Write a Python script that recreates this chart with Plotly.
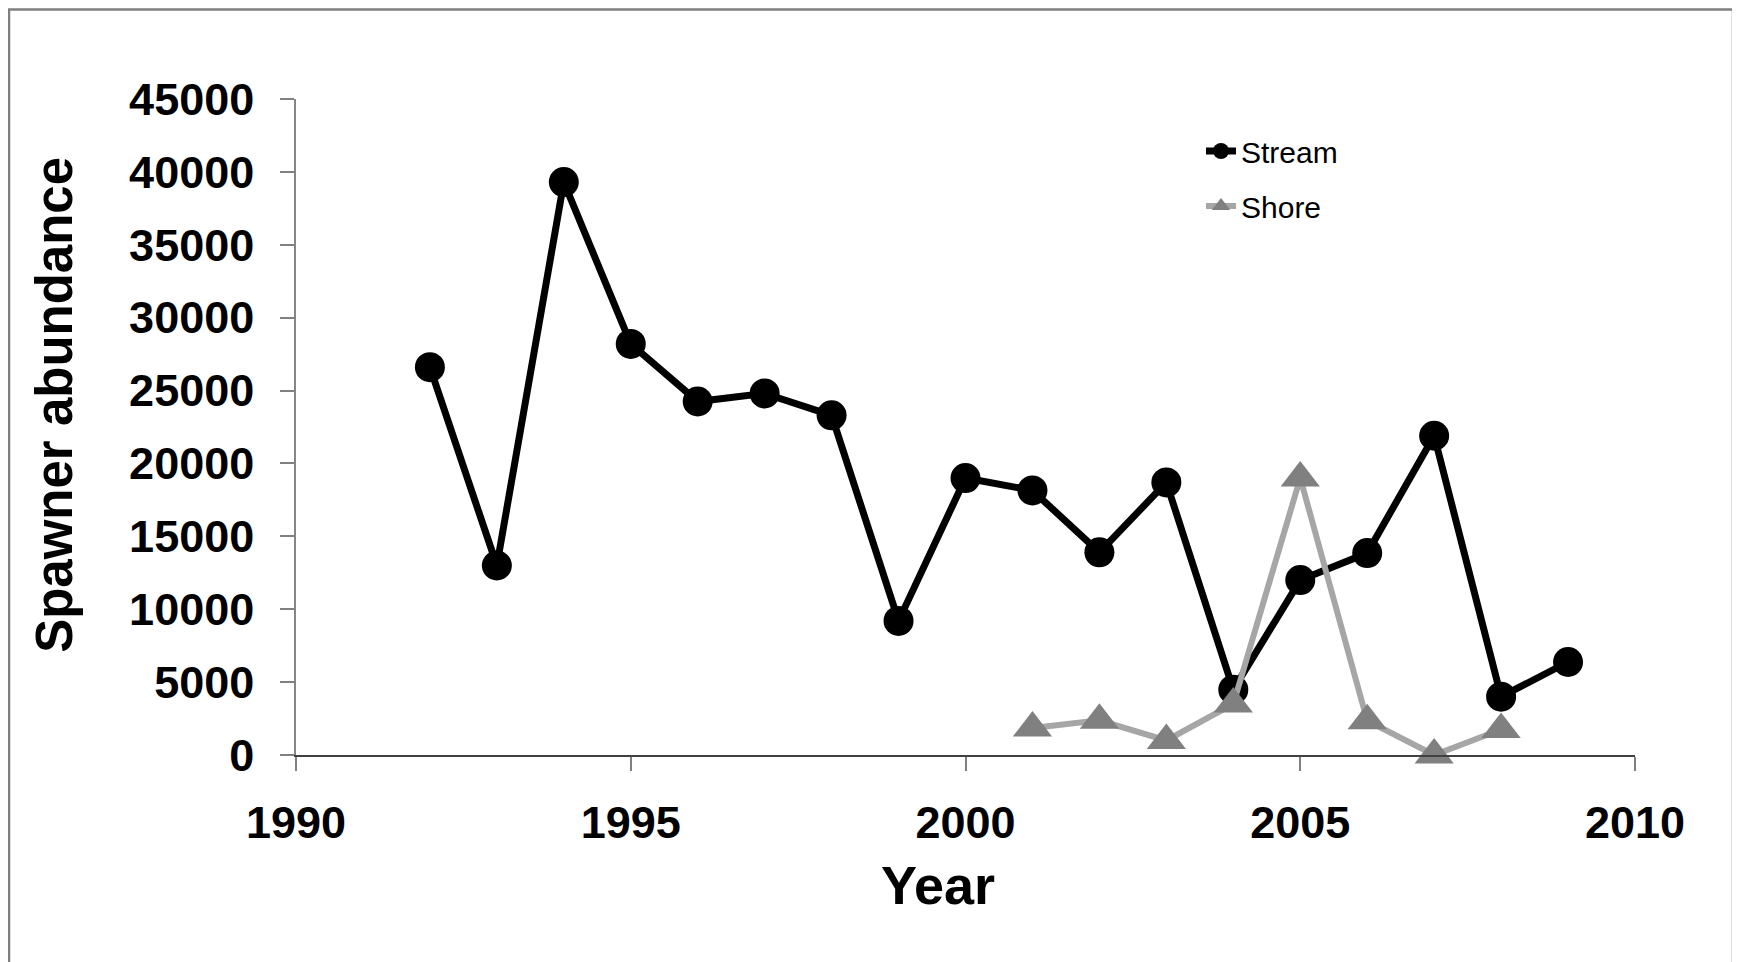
import plotly.graph_objects as go

# ---- data ----
stream_years = [1992, 1993, 1994, 1995, 1996, 1997, 1998, 1999, 2000,
                2001, 2002, 2003, 2004, 2005, 2006, 2007, 2008, 2009]
stream_values = [26600, 13000, 39300, 28200, 24250, 24800, 23300, 9200, 19000,
                 18150, 13900, 18700, 4480, 12000, 13850, 21900, 4000, 6380]

shore_years = [2001, 2002, 2003, 2004, 2005, 2006, 2007, 2008]
shore_values = [1850, 2380, 1000, 3500, 19000, 2350, 0, 1750]

x_ticks = [1990, 1995, 2000, 2005, 2010]
y_ticks = [0, 5000, 10000, 15000, 20000, 25000, 30000, 35000, 40000, 45000]

# page has an 8px body margin; work in page pixel coordinates and convert
OFF = 8
W, H = 1732, 954
PL, PR = 296, 1635          # plot area left/right in page px
PT, PB = 99, 755.3          # plot area top/bottom in page px
L = PL - OFF
T = PT - OFF
R = W - (PR - OFF)
B = H - (PB - OFF)
pw = PR - PL
ph = PB - PT

def px_x(p):
    return (p - PL) / pw

def px_y(p):
    return (PB - p) / ph

FONT = "Liberation Sans, Arial, sans-serif"

fig = go.Figure()
fig.add_trace(go.Scatter(
    x=stream_years, y=stream_values, name="Stream", mode="lines+markers",
    line=dict(color="#000000", width=7),
    marker=dict(symbol="circle", size=30, color="#000000"),
    cliponaxis=False, legendgroup="a",
))
fig.add_trace(go.Scatter(
    x=shore_years, y=shore_values, name="Shore", mode="lines+markers",
    line=dict(color="#a6a6a6", width=6),
    marker=dict(symbol="triangle-up", size=34, color="#808080"),
    cliponaxis=False, legendgroup="b",
))

tick_font = dict(family=FONT, size=45, color="#000000", weight="bold")

fig.update_layout(
    width=W, height=H,
    margin=dict(l=L, r=R, t=T, b=B, autoexpand=False),
    paper_bgcolor="#ffffff", plot_bgcolor="#ffffff",
    font=dict(family=FONT, color="#000000"),
    showlegend=True,
    legend=dict(
        x=px_x(1201), y=px_y(125), xanchor="left", yanchor="top",
        font=dict(family=FONT, size=30, color="#000000"),
        bgcolor="rgba(0,0,0,0)", tracegroupgap=13, traceorder="grouped",
    ),
    xaxis=dict(
        range=[1990, 2010], tickvals=x_ticks, ticktext=[str(v) for v in x_ticks],
        showgrid=False, zeroline=False,
        showline=True, linecolor="#404040", linewidth=1.5,
        ticks="outside", ticklen=14, tickcolor="#808080", tickwidth=1.5,
        tickfont=tick_font,
        ticklabelstandoff=13,
    ),
    yaxis=dict(
        range=[0, 45000], tickvals=y_ticks, ticktext=[str(v) for v in y_ticks],
        showgrid=False, zeroline=False,
        showline=True, linecolor="#868686", linewidth=1.5,
        ticks="outside", ticklen=14, tickcolor="#808080", tickwidth=1.5,
        tickfont=tick_font,
        ticklabelstandoff=17,
    ),
    annotations=[
        dict(text="<b>Spawner abundance</b>", x=px_x(55), y=px_y(405),
             xref="paper", yref="paper", showarrow=False, textangle=-90,
             xanchor="center", yanchor="middle",
             font=dict(family=FONT, size=51, color="#000000")),
        dict(text="<b>Year</b>", x=px_x(938), y=px_y(885),
             xref="paper", yref="paper", showarrow=False,
             xanchor="center", yanchor="middle",
             font=dict(family=FONT, size=54, color="#000000")),
    ],
    shapes=[
        dict(type="rect", xref="paper", yref="paper",
             x0=px_x(9), x1=px_x(1733), y0=px_y(980), y1=px_y(9.5),
             line=dict(color="#7f7f7f", width=2.5), fillcolor="rgba(0,0,0,0)", layer="below"),
    ],
)

fig.write_html("out.html")
